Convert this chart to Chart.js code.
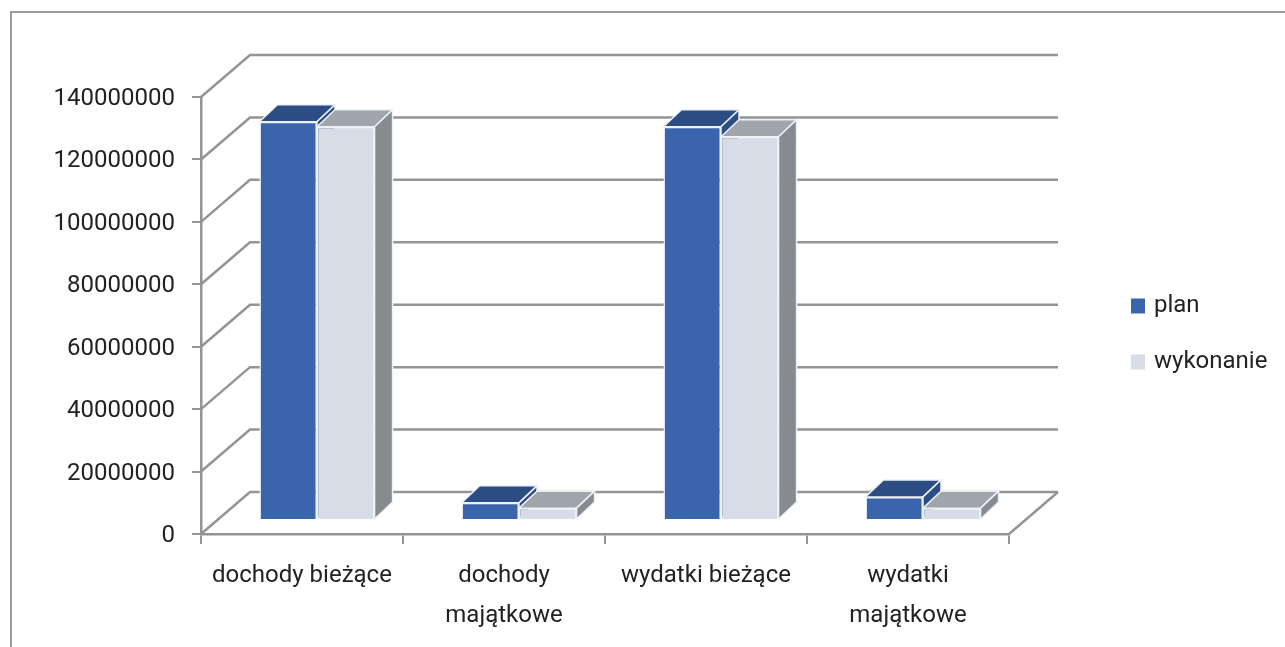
<!DOCTYPE html>
<html lang="pl">
<head>
<meta charset="utf-8">
<title>plan i wykonanie</title>
<script src="https://cdn.jsdelivr.net/npm/chart.js@4"></script>
<style>
  html, body { margin: 0; background: #fff; overflow: hidden; }
  #frame { position: absolute; left: 10px; top: 11px; width: 1300px; height: 660px; border-top: 2px solid #9a9a9a; border-left: 2px solid #9a9a9a; }
  #chart { position: absolute; left: 0; top: 0; filter: blur(0.45px); }
</style>
</head>
<body>
<div id="frame"></div>
<canvas id="chart" width="1285" height="647"></canvas>
<script>
const categories = [['dochody bieżące'], ['dochody', 'majątkowe'], ['wydatki bieżące'], ['wydatki', 'majątkowe']];
const planValues = [127600000, 5500000, 126000000, 7400000];
const wykonanieValues = [126000000, 3800000, 122800000, 3800000];
const tickStep = 20000000;
const tickMax = 140000000;

const FONT = 'Roboto, "Open Sans", sans-serif';
const FONT_SIZE = 24;
const GRID = '#949494';
// back wall sits this far behind the front axes
const WALL_DX = 49, WALL_DY = 42;
// bars stand part way into the floor
const BAR_DX = 15, BAR_DY = 14;
// depth of one bar
const DEPTH_DX = 18, DEPTH_DY = 17;

const faceColors = [
  { top: '#2c4c84', side: '#2c4c84' },
  { top: '#a0a4ab', side: '#878b90' },
];

function fillFace(ctx, pts, color) {
  ctx.beginPath();
  pts.forEach((p, i) => (i ? ctx.lineTo(p[0], p[1]) : ctx.moveTo(p[0], p[1])));
  ctx.closePath();
  ctx.fillStyle = color;
  ctx.fill();
  ctx.lineWidth = 1.5;
  ctx.strokeStyle = '#eef1f5';
  ctx.stroke();
}

const wallPlugin = {
  id: 'wall',
  beforeDatasetsDraw(chart) {
    const { ctx, chartArea, scales } = chart;
    ctx.save();
    ctx.strokeStyle = GRID;
    ctx.lineWidth = 2.5;
    scales.y.ticks.forEach((t) => {
      const y = scales.y.getPixelForValue(t.value);
      ctx.beginPath();
      ctx.moveTo(chartArea.left, y);
      ctx.lineTo(chartArea.left + WALL_DX, y - WALL_DY);
      ctx.lineTo(chartArea.right + WALL_DX, y - WALL_DY);
      ctx.stroke();
    });
    // right edge of the floor
    const y0 = scales.y.getPixelForValue(0);
    ctx.beginPath();
    ctx.moveTo(chartArea.right, y0);
    ctx.lineTo(chartArea.right + WALL_DX, y0 - WALL_DY);
    ctx.stroke();

    // top and side faces, front faces come from the bar elements afterwards
    ctx.translate(BAR_DX, -BAR_DY);
    chart.data.datasets.forEach((ds, i) => {
      chart.getDatasetMeta(i).data.forEach((bar) => {
        const { x, y, base, width } = bar.getProps(['x', 'y', 'base', 'width'], false);
        const l = x - width / 2, r = x + width / 2;
        fillFace(ctx, [[l, y], [l + DEPTH_DX, y - DEPTH_DY], [r + DEPTH_DX, y - DEPTH_DY], [r, y]], faceColors[i].top);
        fillFace(ctx, [[r, y], [r + DEPTH_DX, y - DEPTH_DY], [r + DEPTH_DX, base - DEPTH_DY], [r, base]], faceColors[i].side);
      });
    });
    // keep translated for the library's bars, undone in afterDatasetsDraw
  },
  afterDatasetsDraw(chart) {
    chart.ctx.restore();
  },
  beforeDraw(chart) {
    // legend clips to its own box, so move all four sides
    const legend = chart.legend;
    legend.left = 1102;
    legend.right = 1285;
    legend.top = 262;
    legend.bottom = 647;
  },
};

new Chart(document.getElementById('chart'), {
  type: 'bar',
  data: {
    labels: categories,
    datasets: [
      { label: 'plan', data: planValues, backgroundColor: '#3a64ac', borderColor: '#eef1f5', borderWidth: 1.5 },
      { label: 'wykonanie', data: wykonanieValues, backgroundColor: '#d6dde6', borderColor: '#eef1f5', borderWidth: 1.5 },
    ],
  },
  options: {
    responsive: false,
    animation: false,
    layout: { padding: { top: 97, right: 276 } },
    datasets: { bar: { categoryPercentage: 0.57, barPercentage: 1 } },
    scales: {
      x: {
        afterFit: (s) => { s.height = 113; },
        border: { color: GRID, width: 2.5 },
        grid: { drawOnChartArea: false, color: GRID, lineWidth: 2, tickLength: 10 },
        ticks: { color: '#222', padding: 12, autoSkip: false, maxRotation: 0, font: { family: FONT, size: FONT_SIZE, lineHeight: 1.66 } },
      },
      y: {
        min: 0,
        max: tickMax,
        afterFit: (s) => { s.width = 201; },
        border: { color: GRID, width: 2.5 },
        grid: { drawOnChartArea: false, color: GRID, lineWidth: 2, tickLength: 9 },
        ticks: { stepSize: tickStep, color: '#222', padding: 17, labelOffset: 2, callback: (v) => String(v), font: { family: FONT, size: FONT_SIZE } },
      },
    },
    plugins: {
      tooltip: { enabled: false },
      legend: {
        position: 'chartArea',
        align: 'start',
        labels: {
          // thick stroke around a small box keeps the text close to the swatch
          boxWidth: 8,
          boxHeight: 9,
          padding: 32,
          color: '#222',
          font: { family: FONT, size: FONT_SIZE },
          generateLabels: (chart) => Chart.defaults.plugins.legend.labels.generateLabels(chart)
            .map((item) => ({ ...item, strokeStyle: item.fillStyle, lineWidth: 6 })),
        },
      },
    },
  },
  plugins: [wallPlugin],
});
</script>
</body>
</html>
